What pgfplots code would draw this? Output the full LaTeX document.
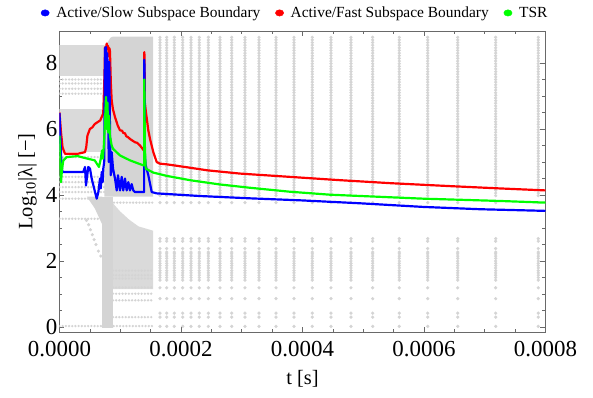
\documentclass[border=0pt]{standalone}
\usepackage{fontspec}
\setmainfont{Liberation Serif}
\usepackage{pgfplots}
\pgfplotsset{compat=1.18}
\usepackage{pgfplotstable}
\definecolor{ptgray}{RGB}{212,212,212}
\definecolor{ptlight}{RGB}{218,218,218}
\definecolor{framec}{RGB}{105,105,105}
\definecolor{mblue}{RGB}{0,0,255}
\definecolor{mred}{RGB}{255,0,0}
\definecolor{mgreen}{RGB}{0,255,0}

% y values of the eigenvalue columns (log10|lambda|) seen after t = 1.6e-4 s
\pgfplotstableread{
y
0.02
0.30
0.42
0.86
1.19
1.42
1.50
1.57
1.64
1.71
1.79
1.86
1.93
2.00
2.08
2.15
2.22
2.27
2.38
2.60
2.68
3.77
3.98
4.06
4.14
4.22
4.30
4.38
4.46
4.54
4.62
4.70
4.78
4.86
4.94
5.02
5.10
5.18
5.26
5.34
5.42
5.50
5.58
5.66
5.74
5.82
5.90
5.98
6.06
6.14
6.22
6.30
6.38
6.46
6.54
6.62
6.70
6.78
6.86
6.94
7.02
7.10
7.18
7.26
7.34
7.42
7.50
7.58
7.66
7.74
7.82
7.90
7.98
8.06
8.14
8.22
8.30
8.38
8.46
8.54
8.62
8.70
8.78
}\colY

\begin{document}
\begin{tikzpicture}
\begin{axis}[
  scale only axis, width=486bp, height=301bp,
  clip mode=individual,
  xmin=0, xmax=0.0008, ymin=-0.15, ymax=8.97,
  xtick={0,0.0002,0.0004,0.0006,0.0008},
  minor x tick num=3,
  ytick={0,2,4,6,8}, minor y tick num=3,
  scaled x ticks=false,
  tick pos=both,
  tick align=inside,
  major tick length=5bp, minor tick length=3bp,
  axis line style={framec, line width=0.8bp},
  tick style={framec, line width=0.6bp},
  /pgf/number format/assume math mode=true,
  ticklabel style={font=\fontsize{23}{26}\selectfont, inner sep=1bp},
  xticklabel style={/pgf/number format/.cd, fixed, fixed zerofill, precision=4, /tikz/.cd, yshift=-8bp},
  yticklabel style={xshift=-1bp},
  xlabel={t [s]},
  ylabel={Log\textsubscript{10}|λ| [−]},
  label style={font=\fontsize{20.5}{24}\selectfont},
  xlabel style={at={(axis description cs:0.5,-0.156)}, anchor=center},
  ylabel style={at={(axis description cs:-0.066,0.5)}, anchor=center},
  legend style={at={(axis description cs:0.485,1.06)}, anchor=center, draw=none, fill=none,
    font=\fontsize{15.5}{18}\selectfont,
    /tikz/every even column/.append style={column sep=13bp},
    /tikz/every odd column/.append style={column sep=5bp}},
  legend columns=-1,
]
\addlegendimage{only marks, mark=*, mblue, mark size=3.2pt, mark options={xscale=1.3}}
\addlegendentry{Active/Slow Subspace Boundary}
\addlegendimage{only marks, mark=*, mred, mark size=3.2pt, mark options={xscale=1.3}}
\addlegendentry{Active/Fast Subspace Boundary}
\addlegendimage{only marks, mark=*, mgreen, mark size=3.2pt, mark options={xscale=1.3}}
\addlegendentry{TSR}

% dense eigenvalue clouds during ignition
\addplot[fill=ptlight, draw=none, forget plot] coordinates {(0,7.62) (0,8.54) (0.000074,8.54) (0.000074,7.62)} --cycle;
\addplot[fill=ptgray, draw=none, forget plot] coordinates {(0.000074,3.95) (0.000074,8.54) (0.000080,8.65) (0.000084,8.77) (0.000088,8.80) (0.000154,8.80) (0.000154,3.95)} --cycle;
\addplot[fill=ptlight, draw=none, forget plot] coordinates {(0,5.30) (0,6.62) (0.000074,6.62) (0.000074,5.30)} --cycle;
\addplot[fill=ptgray, draw=none, forget plot] coordinates {(0.0000705,-0.04) (0.000088,-0.04) (0.000088,3.95) (0.0000705,3.95)} --cycle;
\addplot[fill=ptgray, draw=none, forget plot] coordinates {(0.0000705,3.10) (0.000058,3.60) (0.000045,3.95) (0.0000705,3.95)} --cycle;
\addplot[fill=ptlight, draw=none, forget plot] coordinates {(0.000088,1.15) (0.000088,3.75) (0.000100,3.50) (0.000115,3.25) (0.000130,3.05) (0.000154,2.92) (0.000154,1.15)} --cycle;

% horizontal rows of points
\pgfplotsset{rowdot/.style={forget plot, color=ptgray, line width=2.6pt, line cap=round, dash pattern=on 0pt off 3.2pt}}
\addplot[rowdot] coordinates {(0,7.50) (0.000074,7.50)};
\addplot[rowdot] coordinates {(0,7.38) (0.000074,7.38)};
\addplot[rowdot] coordinates {(0,7.22) (0.000074,7.22)};
\addplot[rowdot] coordinates {(0,7.07) (0.000074,7.07)};
\addplot[rowdot] coordinates {(0,5.15) (0.000074,5.15)};
\addplot[rowdot] coordinates {(0,4.55) (0.000074,4.55)};
\addplot[rowdot] coordinates {(0,4.39) (0.000074,4.39)};
\addplot[rowdot] coordinates {(0,4.24) (0.000074,4.24)};
\addplot[rowdot] coordinates {(0,4.09) (0.000074,4.09)};
\addplot[rowdot] coordinates {(0,3.89) (0.000072,3.89)};
\addplot[rowdot] coordinates {(0,3.28) (0.000072,3.28)};
\addplot[rowdot] coordinates {(0,0.03) (0.000154,0.03)};
\addplot[rowdot] coordinates {(0.000088,0.30) (0.000154,0.30)};
\addplot[rowdot] coordinates {(0.000088,0.81) (0.000154,0.81)};
\addplot[rowdot] coordinates {(0.000088,1.01) (0.000154,1.01)};
\addplot[rowdot] coordinates {(0.000088,1.20) (0.000154,1.20)};
\addplot[rowdot] coordinates {(0.000088,1.47) (0.000154,1.47)};
\addplot[rowdot] coordinates {(0.000088,1.57) (0.000154,1.57)};
\addplot[rowdot] coordinates {(0.000088,1.71) (0.000154,1.71)};
\addplot[rowdot] coordinates {(0.000074,3.77) (0.000154,3.77)};
\addplot[only marks, mark=*, mark size=1.4pt, color=ptgray, forget plot] coordinates {(0.0000445,3.23) (0.000048,3.10) (0.000051,2.95) (0.000054,2.80) (0.000057,2.65) (0.000060,2.50) (0.000064,2.30) (0.000068,2.15)};

% eigenvalue columns at the later time steps
\pgfplotsinvokeforeach{0.0001654,0.0001765,0.0001890,0.0002028,0.0002165,0.0002301,0.0002450,0.0002642,0.0002835,0.0003053,0.0003284,0.0003564,0.0003860,0.0004161,0.0004469,0.0004798,0.0005155,0.0005593,0.0006061,0.0006555,0.0007180,0.0007881}{
  \addplot[only marks, mark=*, mark size=1.45pt, color=ptgray, forget plot] table[x expr=#1, y=y] {\colY};
}

% Active/Fast subspace boundary
\addplot[line width=2.2pt, line join=round, color=mred, forget plot] coordinates {
(0,6.50) (0.0000025,5.90) (0.0000050,5.45) (0.0000090,5.25) (0.0000300,5.25)
(0.0000420,5.30) (0.0000440,5.45) (0.0000460,5.80) (0.0000500,6.00) (0.0000540,6.05)
(0.0000580,6.15) (0.0000620,6.20) (0.0000670,6.26) (0.0000720,6.47) (0.0000740,7.60)
(0.0000750,8.48) (0.0000765,8.40) (0.0000777,8.59) (0.0000790,8.45) (0.0000800,8.52)
(0.0000812,8.20) (0.0000822,8.45) (0.0000831,8.35) (0.0000845,7.40) (0.0000859,6.87)
(0.0000880,6.60) (0.0000914,6.36) (0.0000960,6.10) (0.0000996,5.96) (0.0001030,5.95)
(0.0001050,5.88) (0.0001078,5.87) (0.0001100,5.78) (0.0001130,5.75) (0.0001160,5.70)
(0.0001200,5.65) (0.0001243,5.60) (0.0001280,5.58) (0.0001325,5.50) (0.0001360,5.42)
(0.0001388,5.35) (0.0001393,5.35) (0.0001396,8.33) (0.0001400,8.20) (0.0001405,6.80)
(0.0001419,6.57) (0.0001462,5.96) (0.0001495,5.66) (0.0001544,5.30) (0.0001600,5.00)
(0.0001654,4.95) (0.0001765,4.93) (0.0002066,4.85) (0.0002428,4.75) (0.0002971,4.65)
(0.0003794,4.55) (0.0004617,4.45) (0.0005440,4.36) (0.0006428,4.27) (0.0007251,4.20)
(0.0008000,4.14)};

% Active/Slow subspace boundary
\addplot[line width=2.2pt, line join=round, color=mblue, forget plot] coordinates {
(0,6.48) (0.0000025,5.20) (0.0000046,4.70) (0.0000392,4.70) (0.0000420,4.85)
(0.0000436,4.29) (0.0000474,4.85) (0.0000502,4.80) (0.0000530,4.50) (0.0000570,4.20)
(0.0000612,3.89) (0.0000640,4.09) (0.0000667,4.50) (0.0000680,4.20) (0.0000695,4.70)
(0.0000710,4.39) (0.0000721,4.80) (0.0000735,5.00) (0.0000749,8.44) (0.0000765,8.48)
(0.0000777,7.00) (0.0000785,8.30) (0.0000798,7.63) (0.0000810,5.00) (0.0000820,8.03)
(0.0000831,6.00) (0.0000845,4.60) (0.0000859,5.30) (0.0000881,4.80) (0.0000914,4.50)
(0.0000942,4.14) (0.0000963,4.60) (0.0000996,4.14) (0.0001024,4.55) (0.0001050,4.14)
(0.0001078,4.50) (0.0001106,4.14) (0.0001133,4.39) (0.0001160,4.14) (0.0001188,4.33)
(0.0001215,4.14) (0.0001243,4.09) (0.0001388,4.09) (0.0001393,4.09) (0.0001396,8.10)
(0.0001400,7.80) (0.0001405,5.20) (0.0001419,4.90) (0.0001462,4.60) (0.0001518,4.09)
(0.0001600,4.05) (0.0002313,3.97) (0.0003136,3.90) (0.0003959,3.84) (0.0004947,3.75)
(0.0005984,3.64) (0.0006922,3.57) (0.0008000,3.52)};

% TSR
\addplot[line width=2.2pt, line join=round, color=mgreen, forget plot] coordinates {
(0,5.80) (0.0000025,4.39) (0.0000040,4.75) (0.0000063,5.05) (0.0000119,5.15)
(0.0000300,5.18) (0.0000420,5.12) (0.0000580,5.05) (0.0000650,4.85) (0.0000680,5.10)
(0.0000700,5.35) (0.0000715,5.10) (0.0000730,5.50) (0.0000749,6.20) (0.0000765,6.97)
(0.0000777,6.00) (0.0000790,6.80) (0.0000800,5.90) (0.0000815,6.40) (0.0000830,5.80)
(0.0000859,5.50) (0.0000881,5.40) (0.0000996,5.20) (0.0001160,5.05) (0.0001379,4.90)
(0.0001393,4.90) (0.0001396,7.50) (0.0001405,5.50) (0.0001419,4.80) (0.0001544,4.68)
(0.0001765,4.58) (0.0002148,4.45) (0.0002642,4.32) (0.0003136,4.22) (0.0003794,4.10)
(0.0004453,4.01) (0.0005984,3.89) (0.0007251,3.82) (0.0008000,3.77)};
\end{axis}
\pgfresetboundingbox
\useasboundingbox (-59.5bp,-66bp) rectangle (533.5bp,332bp);
\end{tikzpicture}
\end{document}
